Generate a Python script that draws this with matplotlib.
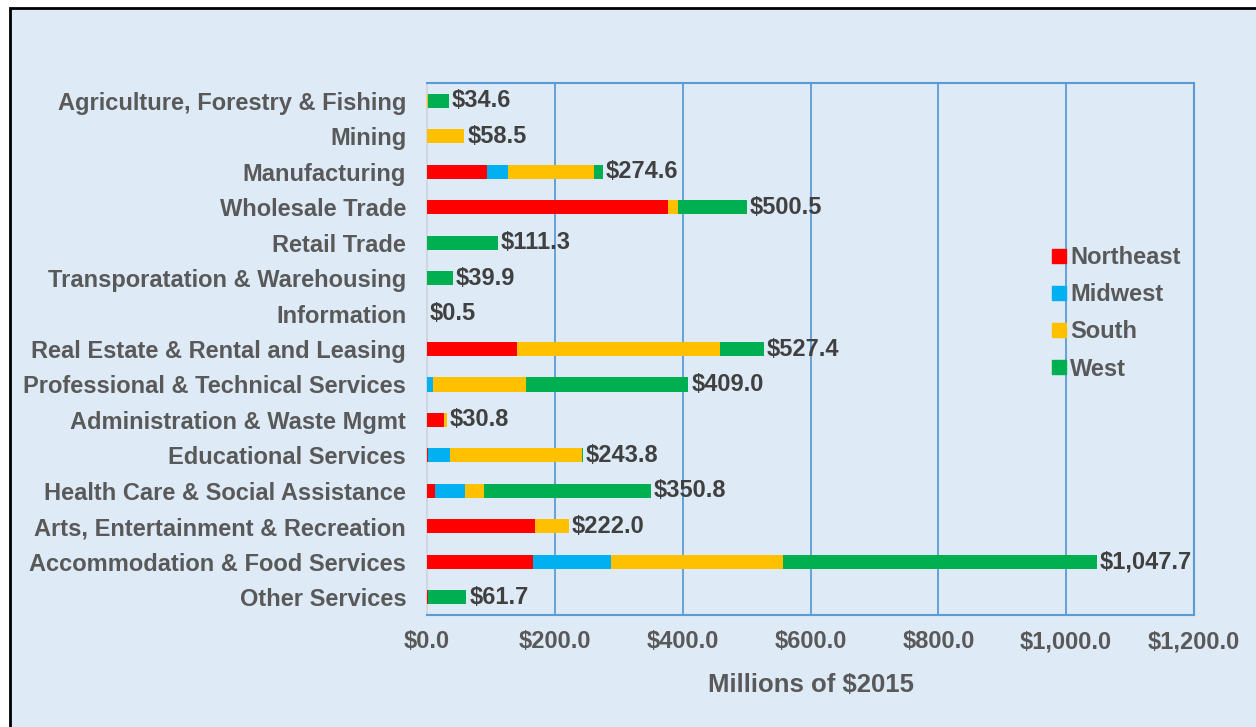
import matplotlib
matplotlib.use("Agg")
import matplotlib.pyplot as plt
from matplotlib.patches import Rectangle
from matplotlib.lines import Line2D
import numpy as np

categories = [
    "Agriculture, Forestry & Fishing", "Mining", "Manufacturing", "Wholesale Trade",
    "Retail Trade", "Transporatation & Warehousing", "Information",
    "Real Estate & Rental and Leasing", "Professional & Technical Services",
    "Administration & Waste Mgmt", "Educational Services",
    "Health Care & Social Assistance", "Arts, Entertainment & Recreation",
    "Accommodation & Food Services", "Other Services",
]
northeast = [0.0, 0.0, 94.0, 376.5, 0.0, 0.0, 0.0, 141.3, 0.0, 26.3, 2.1, 13.0, 169.5, 166.4, 2.1]
midwest   = [0.0, 0.0, 33.5, 0.0, 0.0, 0.0, 0.0, 0.0, 9.4, 0.0, 34.0, 47.2, 0.0, 121.6, 0.0]
south     = [1.5, 58.5, 133.5, 15.8, 0.0, 0.0, 0.0, 317.0, 145.0, 4.5, 206.5, 29.3, 52.5, 269.2, 0.0]
west      = [33.1, 0.0, 13.6, 108.2, 111.3, 39.9, 0.5, 69.1, 254.6, 0.0, 1.2, 261.3, 0.0, 490.5, 59.6]
totals    = [34.6, 58.5, 274.6, 500.5, 111.3, 39.9, 0.5, 527.4, 409.0, 30.8, 243.8, 350.8, 222.0, 1047.7, 61.7]
series_names = ["Northeast", "Midwest", "South", "West"]
xticks = [0, 200, 400, 600, 800, 1000, 1200]

colors = ["#FF0000", "#00B0F0", "#FFC000", "#00B050"]
bg = "#DEEAF6"
grid_c = "#5B9BD5"
txt_c = "#595959"
lab_c = "#404040"

plt.rcParams['font.family'] = ['Liberation Sans', 'DejaVu Sans']

fig = plt.figure(figsize=(12.56, 7.27), dpi=100, facecolor="white")
W, H = 1256, 727
fig.patches.append(Rectangle((10 / W, -0.01), 1.1, (H - 8) / H + 0.01,
                             transform=fig.transFigure, facecolor=bg,
                             edgecolor="black", linewidth=2, zorder=-10))

ax = fig.add_axes([427 / W, 1 - 615 / H, (1194 - 427) / W, (615 - 83) / H])
ax.set_facecolor(bg)

y = np.arange(len(categories))
left = np.zeros(len(categories))
for name, vals, c in zip(series_names, [northeast, midwest, south, west], colors):
    vals = np.array(vals)
    ax.barh(y, vals, left=left, height=0.4, color=c, label=name, zorder=3)
    left += vals

for i, t in enumerate(totals):
    ax.annotate(f"${t:,.1f}", xy=(left[i], y[i]), xytext=(2, 0),
                textcoords="offset points", va="center", ha="left",
                fontsize=17, fontweight="bold", color=lab_c, zorder=4)

ax.set_ylim(len(categories) - 0.5, -0.5)
ax.set_xlim(0, 1200)
ax.set_xticks(xticks)
ax.set_xticklabels([f"${v:,.1f}" for v in xticks])
ax.set_yticks(y)
ax.set_yticklabels(categories)
ax.tick_params(axis="y", length=0, pad=15, labelsize=17, labelcolor=txt_c)
ax.tick_params(axis="x", length=0, pad=11, labelsize=17, labelcolor=txt_c)
for lbl in ax.get_xticklabels() + ax.get_yticklabels():
    lbl.set_fontweight("bold")
ax.grid(axis="x", color=grid_c, linewidth=1.3, zorder=0)
for s in ["top", "right", "bottom"]:
    ax.spines[s].set_color(grid_c)
    ax.spines[s].set_linewidth(1.5)
ax.spines["left"].set_color("#D0D7E0")
ax.spines["left"].set_linewidth(1.5)

ax.set_xlabel("Millions of $2015", fontsize=18.5, fontweight="bold", color=txt_c, labelpad=14)

handles = [Line2D([0], [0], marker="s", linestyle="none", markersize=10,
                  markerfacecolor=c, markeredgecolor=c) for c in colors]
leg = fig.legend(handles, series_names, loc="upper left",
                 bbox_to_anchor=(1050 / W, 1 - 246 / H), frameon=False,
                 prop={"size": 17, "weight": "bold"}, labelcolor=txt_c,
                 handletextpad=0.05, labelspacing=0.6, handlelength=0.8,
                 borderaxespad=0, borderpad=0)

fig.savefig("out.png", dpi=100, facecolor="white")
